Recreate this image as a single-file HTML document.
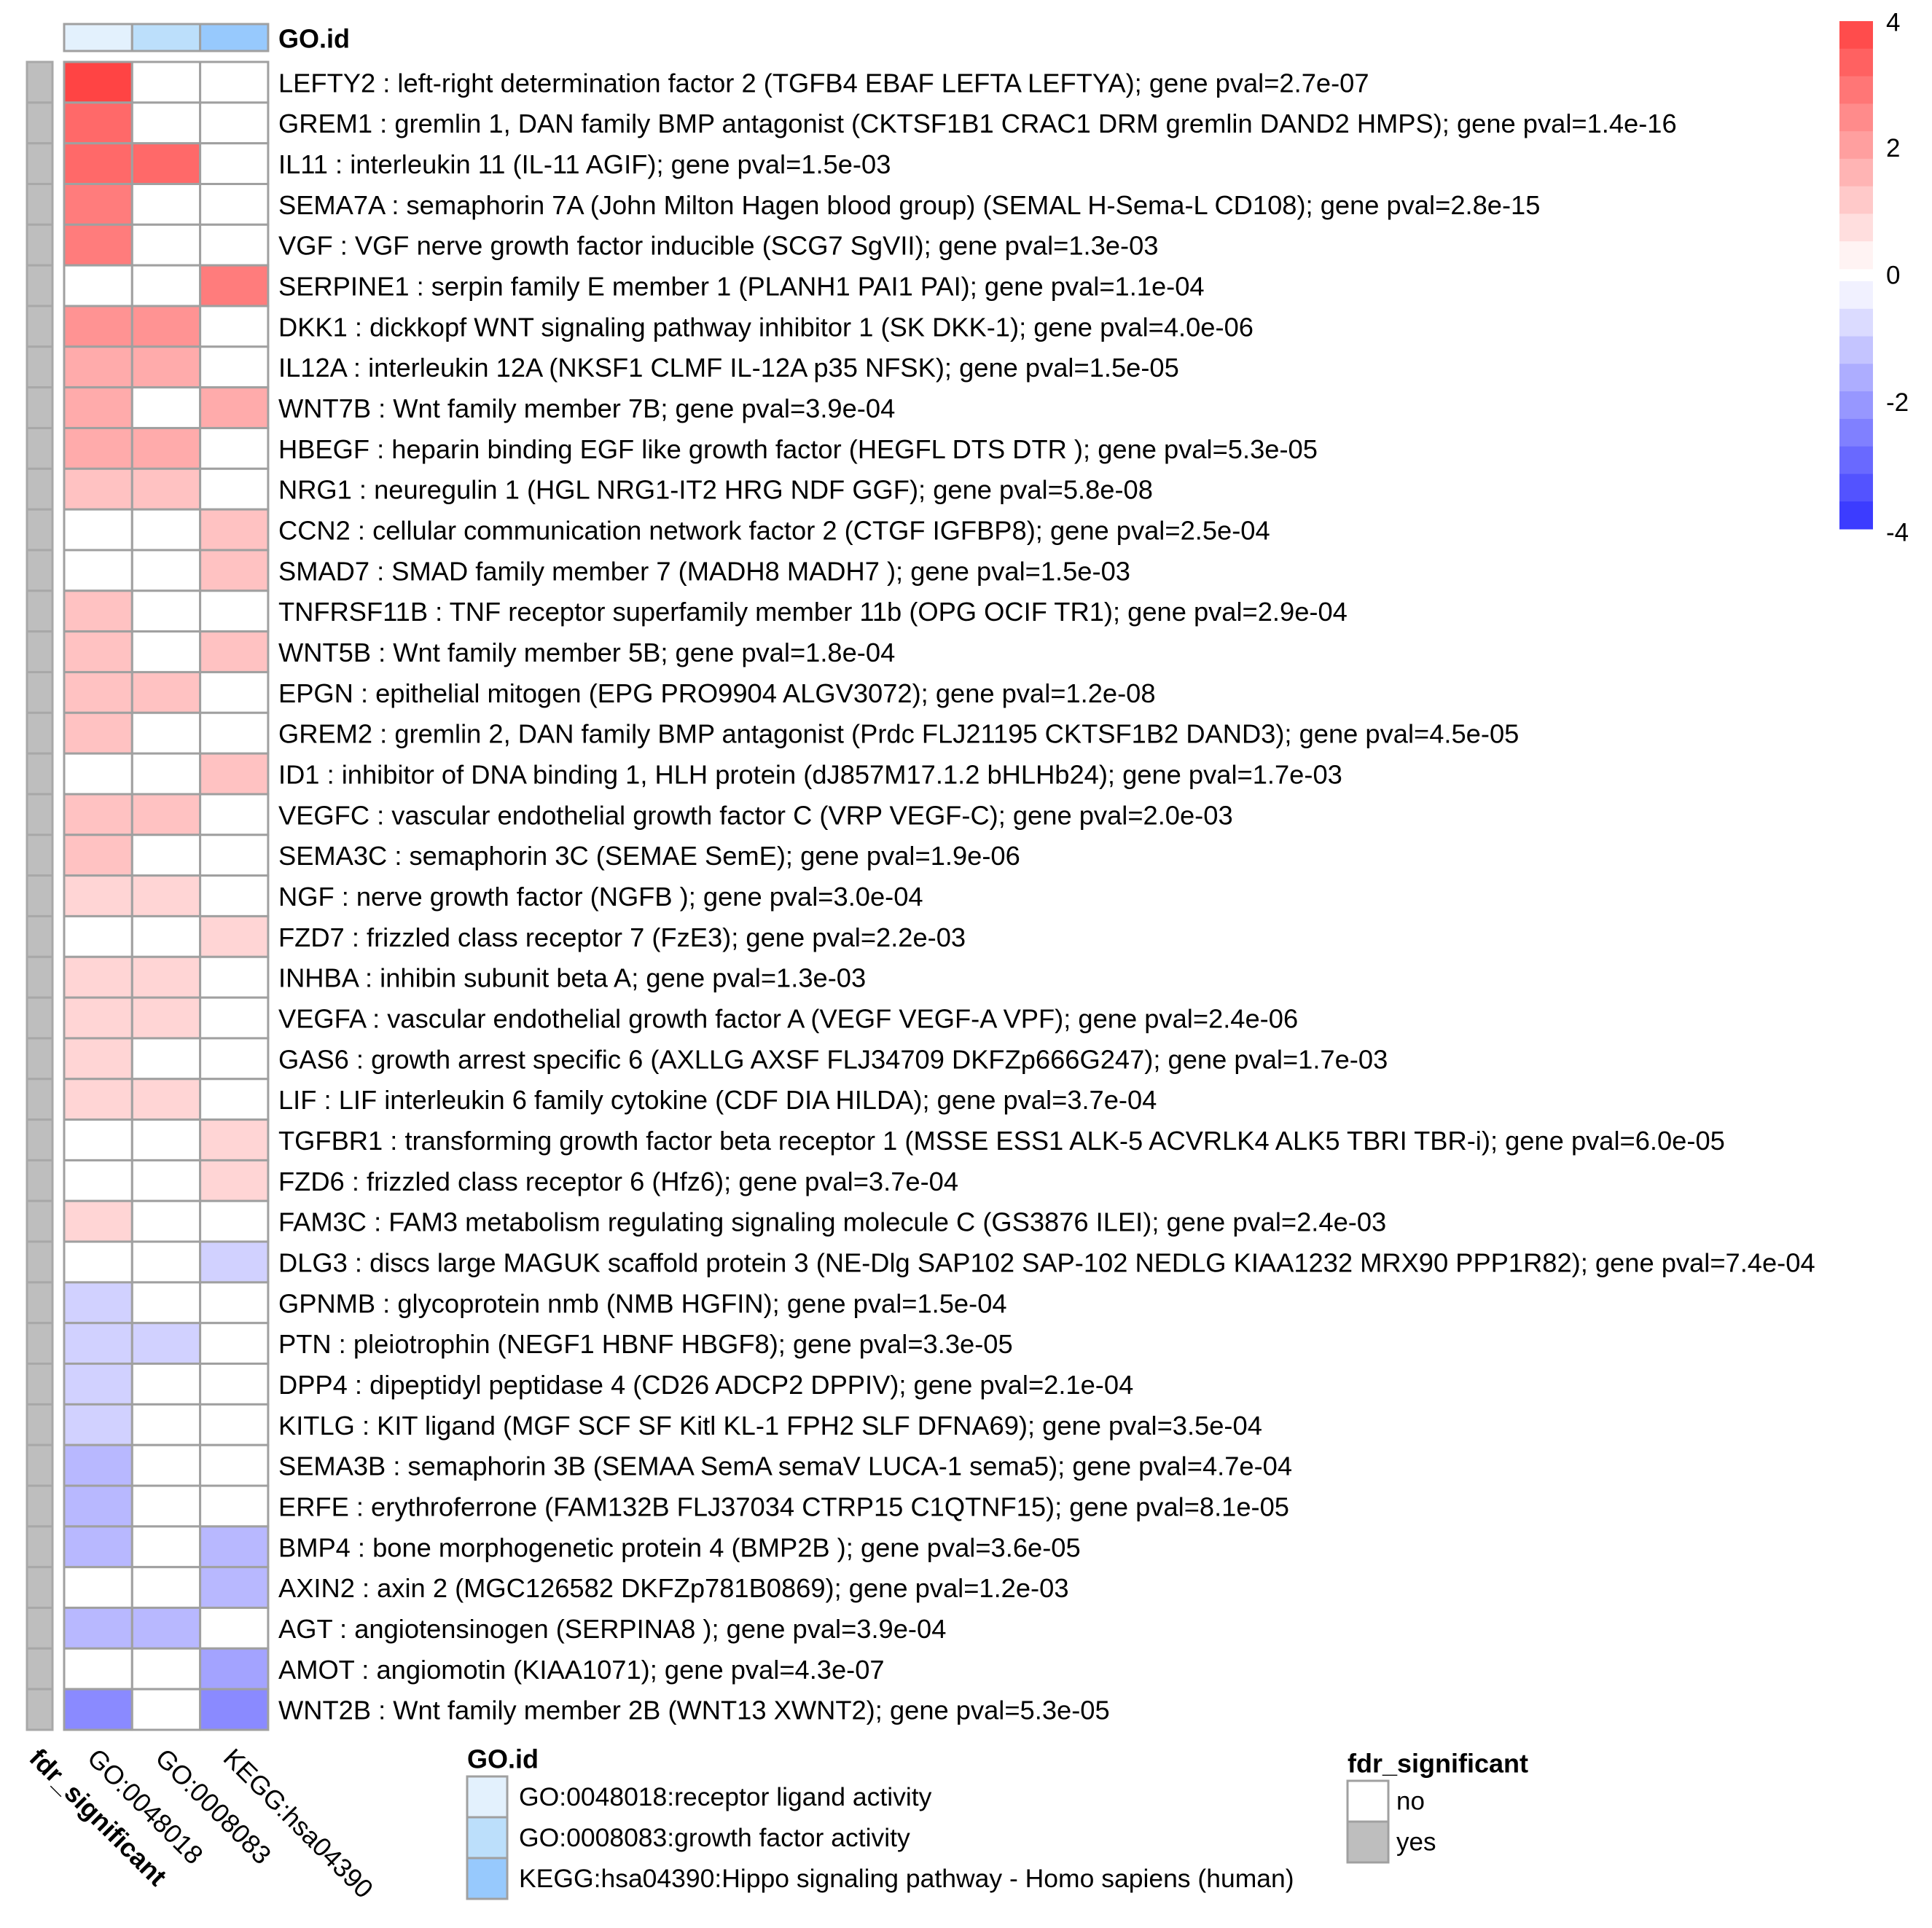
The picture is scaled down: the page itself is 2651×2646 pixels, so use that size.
<!DOCTYPE html>
<html><head><meta charset="utf-8"><style>
html,body{margin:0;padding:0;background:#fff;}
svg{display:block;font-family:"Liberation Sans",Arial,sans-serif;}
</style></head><body>
<svg id="chart" width="2651" height="2646" viewBox="0 0 2651 2646" xmlns="http://www.w3.org/2000/svg">
<rect width="2651" height="2646" fill="#fff"/>
<g id="topbar"></g>
<text x="382" y="53" font-size="36" font-weight="bold" dominant-baseline="central">GO.id</text>
<g id="fdr"></g>
<g id="cells"></g>
<g id="rowlabels"></g>
<g id="collabels"></g>
<g id="colorbar"></g>
<g>
<text x="641" y="2414" font-size="36" font-weight="bold" dominant-baseline="central">GO.id</text>
<rect x="641" y="2438" width="55" height="56" fill="#e3f1fd" stroke="#a0a0a0" stroke-width="3"/>
<rect x="641" y="2494" width="55" height="56" fill="#bcdffb" stroke="#a0a0a0" stroke-width="3"/>
<rect x="641" y="2550" width="55" height="56" fill="#97c9fd" stroke="#a0a0a0" stroke-width="3"/>
<text x="712" y="2466" font-size="35.5" dominant-baseline="central">GO:0048018:receptor ligand activity</text>
<text x="712" y="2522" font-size="35.5" dominant-baseline="central">GO:0008083:growth factor activity</text>
<text x="712" y="2578" font-size="35.5" dominant-baseline="central">KEGG:hsa04390:Hippo signaling pathway - Homo sapiens (human)</text>
</g>
<g>
<text x="1849" y="2420" font-size="36" font-weight="bold" dominant-baseline="central">fdr_significant</text>
<rect x="1849" y="2444" width="56" height="56" fill="#fff" stroke="#a0a0a0" stroke-width="3"/>
<rect x="1849" y="2500" width="56" height="56" fill="#bebebe" stroke="#a0a0a0" stroke-width="3"/>
<text x="1916" y="2472" font-size="35" dominant-baseline="central">no</text>
<text x="1916" y="2528" font-size="35" dominant-baseline="central">yes</text>
</g>
</svg>
<script>
const columns = ["GO:0048018","GO:0008083","KEGG:hsa04390"];
const columnColors = ["#e3f1fd","#bcdffb","#97c9fd"];
const rowLabels = [
"LEFTY2 : left-right determination factor 2 (TGFB4 EBAF LEFTA LEFTYA); gene pval=2.7e-07",
"GREM1 : gremlin 1, DAN family BMP antagonist (CKTSF1B1 CRAC1 DRM gremlin DAND2 HMPS); gene pval=1.4e-16",
"IL11 : interleukin 11 (IL-11 AGIF); gene pval=1.5e-03",
"SEMA7A : semaphorin 7A (John Milton Hagen blood group) (SEMAL H-Sema-L CD108); gene pval=2.8e-15",
"VGF : VGF nerve growth factor inducible (SCG7 SgVII); gene pval=1.3e-03",
"SERPINE1 : serpin family E member 1 (PLANH1 PAI1 PAI); gene pval=1.1e-04",
"DKK1 : dickkopf WNT signaling pathway inhibitor 1 (SK DKK-1); gene pval=4.0e-06",
"IL12A : interleukin 12A (NKSF1 CLMF IL-12A p35 NFSK); gene pval=1.5e-05",
"WNT7B : Wnt family member 7B; gene pval=3.9e-04",
"HBEGF : heparin binding EGF like growth factor (HEGFL DTS DTR ); gene pval=5.3e-05",
"NRG1 : neuregulin 1 (HGL NRG1-IT2 HRG NDF GGF); gene pval=5.8e-08",
"CCN2 : cellular communication network factor 2 (CTGF IGFBP8); gene pval=2.5e-04",
"SMAD7 : SMAD family member 7 (MADH8 MADH7 ); gene pval=1.5e-03",
"TNFRSF11B : TNF receptor superfamily member 11b (OPG OCIF TR1); gene pval=2.9e-04",
"WNT5B : Wnt family member 5B; gene pval=1.8e-04",
"EPGN : epithelial mitogen (EPG PRO9904 ALGV3072); gene pval=1.2e-08",
"GREM2 : gremlin 2, DAN family BMP antagonist (Prdc FLJ21195 CKTSF1B2 DAND3); gene pval=4.5e-05",
"ID1 : inhibitor of DNA binding 1, HLH protein (dJ857M17.1.2 bHLHb24); gene pval=1.7e-03",
"VEGFC : vascular endothelial growth factor C (VRP VEGF-C); gene pval=2.0e-03",
"SEMA3C : semaphorin 3C (SEMAE SemE); gene pval=1.9e-06",
"NGF : nerve growth factor (NGFB ); gene pval=3.0e-04",
"FZD7 : frizzled class receptor 7 (FzE3); gene pval=2.2e-03",
"INHBA : inhibin subunit beta A; gene pval=1.3e-03",
"VEGFA : vascular endothelial growth factor A (VEGF VEGF-A VPF); gene pval=2.4e-06",
"GAS6 : growth arrest specific 6 (AXLLG AXSF FLJ34709 DKFZp666G247); gene pval=1.7e-03",
"LIF : LIF interleukin 6 family cytokine (CDF DIA HILDA); gene pval=3.7e-04",
"TGFBR1 : transforming growth factor beta receptor 1 (MSSE ESS1 ALK-5 ACVRLK4 ALK5 TBRI TBR-i); gene pval=6.0e-05",
"FZD6 : frizzled class receptor 6 (Hfz6); gene pval=3.7e-04",
"FAM3C : FAM3 metabolism regulating signaling molecule C (GS3876 ILEI); gene pval=2.4e-03",
"DLG3 : discs large MAGUK scaffold protein 3 (NE-Dlg SAP102 SAP-102 NEDLG KIAA1232 MRX90 PPP1R82); gene pval=7.4e-04",
"GPNMB : glycoprotein nmb (NMB HGFIN); gene pval=1.5e-04",
"PTN : pleiotrophin (NEGF1 HBNF HBGF8); gene pval=3.3e-05",
"DPP4 : dipeptidyl peptidase 4 (CD26 ADCP2 DPPIV); gene pval=2.1e-04",
"KITLG : KIT ligand (MGF SCF SF Kitl KL-1 FPH2 SLF DFNA69); gene pval=3.5e-04",
"SEMA3B : semaphorin 3B (SEMAA SemA semaV LUCA-1 sema5); gene pval=4.7e-04",
"ERFE : erythroferrone (FAM132B FLJ37034 CTRP15 C1QTNF15); gene pval=8.1e-05",
"BMP4 : bone morphogenetic protein 4 (BMP2B ); gene pval=3.6e-05",
"AXIN2 : axin 2 (MGC126582 DKFZp781B0869); gene pval=1.2e-03",
"AGT : angiotensinogen (SERPINA8 ); gene pval=3.9e-04",
"AMOT : angiomotin (KIAA1071); gene pval=4.3e-07",
"WNT2B : Wnt family member 2B (WNT13 XWNT2); gene pval=5.3e-05"
];
const valuesGO0048018 = [4,3.2,3.2,2.8,2.8,0,2.3,1.8,1.8,1.8,1.3,0,0,1.3,1.3,1.3,1.3,0,1.3,1.3,0.9,0,0.9,0.9,0.9,0.9,0,0,0.9,0,-0.9,-0.9,-0.9,-0.9,-1.4,-1.4,-1.4,0,-1.4,0,-2.3];
const valuesGO0008083 = [0,0,3.2,0,0,0,2.3,1.8,0,1.8,1.3,0,0,0,0,1.3,0,0,1.3,0,0.9,0,0.9,0.9,0,0.9,0,0,0,0,0,-0.9,0,0,0,0,0,0,-1.4,0,0];
const valuesHSA04390 = [0,0,0,0,0,2.8,0,0,1.8,0,0,1.3,1.3,0,1.3,0,0,1.3,0,0,0,0.9,0,0,0,0,0.9,0.9,0,-0.9,0,0,0,0,0,0,-1.4,-1.4,0,-1.8,-2.3];
const fdrSignificant = ["yes","yes","yes","yes","yes","yes","yes","yes","yes","yes","yes","yes","yes","yes","yes","yes","yes","yes","yes","yes","yes","yes","yes","yes","yes","yes","yes","yes","yes","yes","yes","yes","yes","yes","yes","yes","yes","yes","yes","yes","yes"];
const scaleTicks = [4,2,0,-2,-4];

const NS = "http://www.w3.org/2000/svg";
const X0 = 88, COLW = 93.3, Y0 = 85, ROWH = 55.83;
function xPos(c){return X0 + c*COLW;}
function yPos(r){return Y0 + r*ROWH;}
function colorOf(v){
  if(v>0){const c=Math.round(255-187*Math.min(v,4)/4);return `rgb(255,${c},${c})`;}
  if(v<0){const c=Math.round(255-204*Math.min(-v,4)/4);return `rgb(${c},${c},255)`;}
  return "#ffffff";
}
function mk(tag, attrs, parent){
  const el=document.createElementNS(NS,tag);
  for(const k in attrs) el.setAttribute(k,attrs[k]);
  parent.appendChild(el); return el;
}
const series=[valuesGO0048018,valuesGO0008083,valuesHSA04390];
const topBarG=document.getElementById("topbar");
columns.forEach((c,i)=>{
  const r=mk("rect",{x:xPos(i),y:33,width:COLW,height:37,fill:columnColors[i],stroke:"#a0a0a0","stroke-width":3},topBarG);
  
  
});
const fdrG=document.getElementById("fdr");
const cellsG=document.getElementById("cells");
const labelsG=document.getElementById("rowlabels");
rowLabels.forEach((lab,r)=>{
  const f=mk("rect",{x:37,y:yPos(r),width:35,height:ROWH,fill:fdrSignificant[r]==="yes"?"#bebebe":"#fff",stroke:"#a8a8a8","stroke-width":3},fdrG);
  
  
  series.forEach((s,c)=>{
    const cell=mk("rect",{x:xPos(c),y:yPos(r),width:COLW,height:ROWH,fill:colorOf(s[r]),stroke:"#a0a0a0","stroke-width":3},cellsG);
    
    
  });
  const t=mk("text",{x:382,y:yPos(r)+ROWH/2+1,"font-size":36.3,"dominant-baseline":"central"},labelsG);
  t.textContent=lab;
  
  
});
const clG=document.getElementById("collabels");
const colNames=["fdr_significant"].concat(columns);
const centers=[55].concat(columns.map((c,i)=>xPos(i)+COLW/2));
colNames.forEach((n,i)=>{
  const t=mk("text",{transform:`translate(${centers[i]-8},${2406}) rotate(45)`,"font-size":36,"dominant-baseline":"central","font-weight":i===0?"bold":"normal"},clG);
  t.textContent=n;
  
  
});
const cbG=document.getElementById("colorbar");
const NB=9, BH=(369-29)/NB;
for(let k=0;k<NB;k++){
  const v=4*(NB-k-0.4)/NB;
  const r=mk("rect",{x:2536-12,y:29+k*BH,width:46,height:BH+0.5,fill:colorOf(v)},cbG);
  
  
}
for(let k=0;k<NB;k++){
  const v=-4*(k+0.6)/NB;
  const r=mk("rect",{x:2536-12,y:386+k*BH,width:46,height:BH+0.5,fill:colorOf(v)},cbG);
  
  
}
function cbY(v){return v>=0 ? 378-(v/4)*(378-29) : 378+(-v/4)*(727-378);}
scaleTicks.forEach(v=>{
  const t=mk("text",{x:2588,y:cbY(v)+(v===4?2:v===-4?4:0),"font-size":35,"dominant-baseline":"central"},cbG);
  t.textContent=String(v);
  
  
});
</script>
</body></html>
